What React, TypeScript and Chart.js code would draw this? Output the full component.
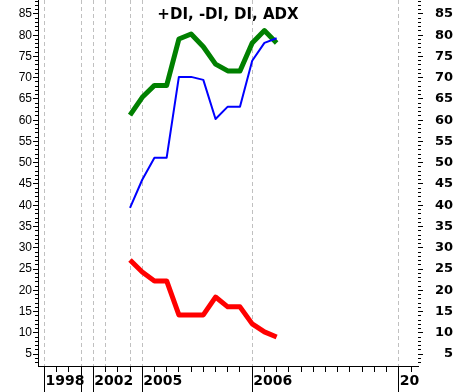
import React, { useEffect, useRef } from 'react';
import { Chart, registerables } from 'chart.js';

Chart.register(...registerables);

const titleText = '+DI, -DI, DI, ADX';

// period slots (one per data point)
const periodIndex = [0, 1, 2, 3, 4, 5, 6, 7, 8, 9, 10, 11, 12];
const blueSeries = [39.4, 46, 51.2, 51.2, 70.2, 70.2, 69.5, 60.3, 63.2, 63.2, 74, 78.2, 79.3];
const redSeries = [27.1, 24.3, 22.2, 22.2, 14.2, 14.2, 14.2, 18.4, 16.1, 16.1, 12.1, 10.2, 9];
const greenSeries = [61.2, 65.4, 68.2, 68.2, 79.1, 80.3, 77.3, 73.2, 71.6, 71.6, 78.2, 81.1, 78.2];

// x axis slots
const xMin = -7.53;
const xMax = 23.57;
const xTickIndex = [-7, -6, -5, -4, -3, -2, -1, 0, 1, 2, 3, 4, 5, 6, 7, 8, 9, 10, 11, 12, 13, 14, 15, 16, 17, 18, 19, 20, 21, 22, 23];
const gridIndex = [-7, -4, -3, -2, 0, 1, 10, 22];
const longTickIndex = [-7, -4, -3, 1, 10, 22];
const yearTickIndex = [-7, -3, 1, 10, 22];
const yearTickLabels = ['1998', '2002', '2005', '2006', '20'];

// y axis
const yMin = 2.18;
const yMax = 88.29;
const yTickValues = [3, 4, 5, 6, 7, 8, 9, 10, 11, 12, 13, 14, 15, 16, 17, 18, 19, 20, 21, 22, 23, 24, 25, 26, 27, 28, 29, 30, 31, 32, 33, 34, 35, 36, 37, 38, 39, 40, 41, 42, 43, 44, 45, 46, 47, 48, 49, 50, 51, 52, 53, 54, 55, 56, 57, 58, 59, 60, 61, 62, 63, 64, 65, 66, 67, 68, 69, 70, 71, 72, 73, 74, 75, 76, 77, 78, 79, 80, 81, 82, 83, 84, 85, 86, 87, 88];
const yLabelValues = [5, 10, 15, 20, 25, 30, 35, 40, 45, 50, 55, 60, 65, 70, 75, 80, 85];

const toPoints = (vals: number[]) => vals.map((v, i) => ({ x: periodIndex[i], y: v }));

const titlePlugin = {
  id: 'insideTitle',
  afterDraw(chart: any) {
    const { ctx, chartArea } = chart;
    ctx.save();
    ctx.font = 'bold 15px "DejaVu Sans"';
    ctx.fillStyle = '#000';
    ctx.textAlign = 'center';
    ctx.textBaseline = 'alphabetic';
    ctx.fillText(titleText, (chartArea.left + chartArea.right) / 2, chartArea.top + 19);
    ctx.restore();
  },
};

export default function App() {
  const ref = useRef<HTMLCanvasElement | null>(null);

  useEffect(() => {
    document.body.style.margin = '0';
    const canvas = ref.current;
    if (!canvas) return;
    const chart = new Chart(canvas, {
      type: 'line',
      data: {
        datasets: [
          {
            label: 'DI',
            data: toPoints(blueSeries),
            borderColor: '#0000ff',
            borderWidth: 2,
            pointRadius: 0,
            tension: 0,
            borderJoinStyle: 'round',
          },
          {
            label: 'ADX',
            data: toPoints(greenSeries),
            borderColor: '#008000',
            borderWidth: 5,
            pointRadius: 0,
            tension: 0,
            borderJoinStyle: 'round',
          },
          {
            label: '-DI',
            data: toPoints(redSeries),
            borderColor: '#ff0000',
            borderWidth: 5,
            pointRadius: 0,
            tension: 0,
            borderJoinStyle: 'round',
          },
        ],
      },
      options: {
        animation: false,
        responsive: false,
        devicePixelRatio: 1,
        layout: { padding: { left: 0, top: 0, bottom: 0, right: 3 } },
        plugins: {
          legend: { display: false },
          tooltip: { enabled: false },
          title: { display: false },
        },
        scales: {
          x: {
            type: 'linear',
            position: 'bottom',
            min: xMin,
            max: xMax,
            afterBuildTicks: (s: any) => {
              s.ticks = xTickIndex.map((v) => ({ value: v }));
            },
            afterFit: (s: any) => {
              s.height = 26;
              s.paddingLeft = 0;
              s.paddingRight = 0;
            },
            grid: {
              color: (c: any) => (gridIndex.includes(c.tick?.value) ? '#c0c0c0' : 'rgba(0,0,0,0)'),
              tickColor: '#000',
              tickLength: 26,
              tickWidth: 1,
              lineWidth: 1,
              tickBorderDash: (c: any) => (longTickIndex.includes(c.tick?.value) ? [] : [5, 100]),
            },
            border: { display: true, color: '#000', width: 1, dash: [4, 3] },
            ticks: {
              autoSkip: false,
              maxRotation: 0,
              minRotation: 0,
              align: 'start',
              labelOffset: 1,
              padding: -19,
              color: '#000',
              font: { family: '"DejaVu Sans"', size: 14, weight: 'bold' },
              callback: (v: any) => {
                const k = yearTickIndex.indexOf(Number(v));
                return k >= 0 ? yearTickLabels[k] : '';
              },
            },
          },
          y: {
            type: 'linear',
            position: 'left',
            min: yMin,
            max: yMax,
            afterBuildTicks: (s: any) => {
              s.ticks = yTickValues.map((v) => ({ value: v }));
            },
            afterFit: (s: any) => {
              s.width = 38;
              s.paddingTop = 0;
              s.paddingBottom = 0;
            },
            grid: {
              drawOnChartArea: false,
              tickLength: 5,
              tickColor: '#000',
              tickWidth: 1,
              tickBorderDash: (c: any) => (yLabelValues.includes(c.tick?.value) ? [] : [0, 2, 3, 100]),
            },
            border: { display: true, color: '#000', width: 1 },
            ticks: {
              autoSkip: false,
              padding: 1,
              color: '#000',
              font: { family: '"Liberation Sans", Arial', size: 12 },
              callback: (v: any) => (yLabelValues.includes(Number(v)) ? String(v) : ''),
            },
          },
          y2: {
            type: 'linear',
            position: 'right',
            min: yMin,
            max: yMax,
            afterBuildTicks: (s: any) => {
              s.ticks = yTickValues.map((v) => ({ value: v }));
            },
            afterFit: (s: any) => {
              s.width = 35;
              s.paddingTop = 0;
              s.paddingBottom = 0;
            },
            grid: {
              drawOnChartArea: false,
              tickLength: 5,
              tickColor: '#000',
              tickWidth: 1,
              tickBorderDash: (c: any) => (yLabelValues.includes(c.tick?.value) ? [] : [3, 100]),
            },
            border: { display: false },
            ticks: {
              autoSkip: false,
              padding: 2,
              crossAlign: 'far',
              color: '#000',
              font: { family: '"DejaVu Sans"', size: 13, weight: 'bold' },
              callback: (v: any) => (yLabelValues.includes(Number(v)) ? String(v) : ''),
            },
          },
        },
      } as any,
      plugins: [titlePlugin],
    });
    return () => chart.destroy();
  }, []);

  return (
    <div style={{ width: 456, height: 392 }}>
      <canvas ref={ref} width={456} height={392} style={{ display: 'block' }} />
    </div>
  );
}
